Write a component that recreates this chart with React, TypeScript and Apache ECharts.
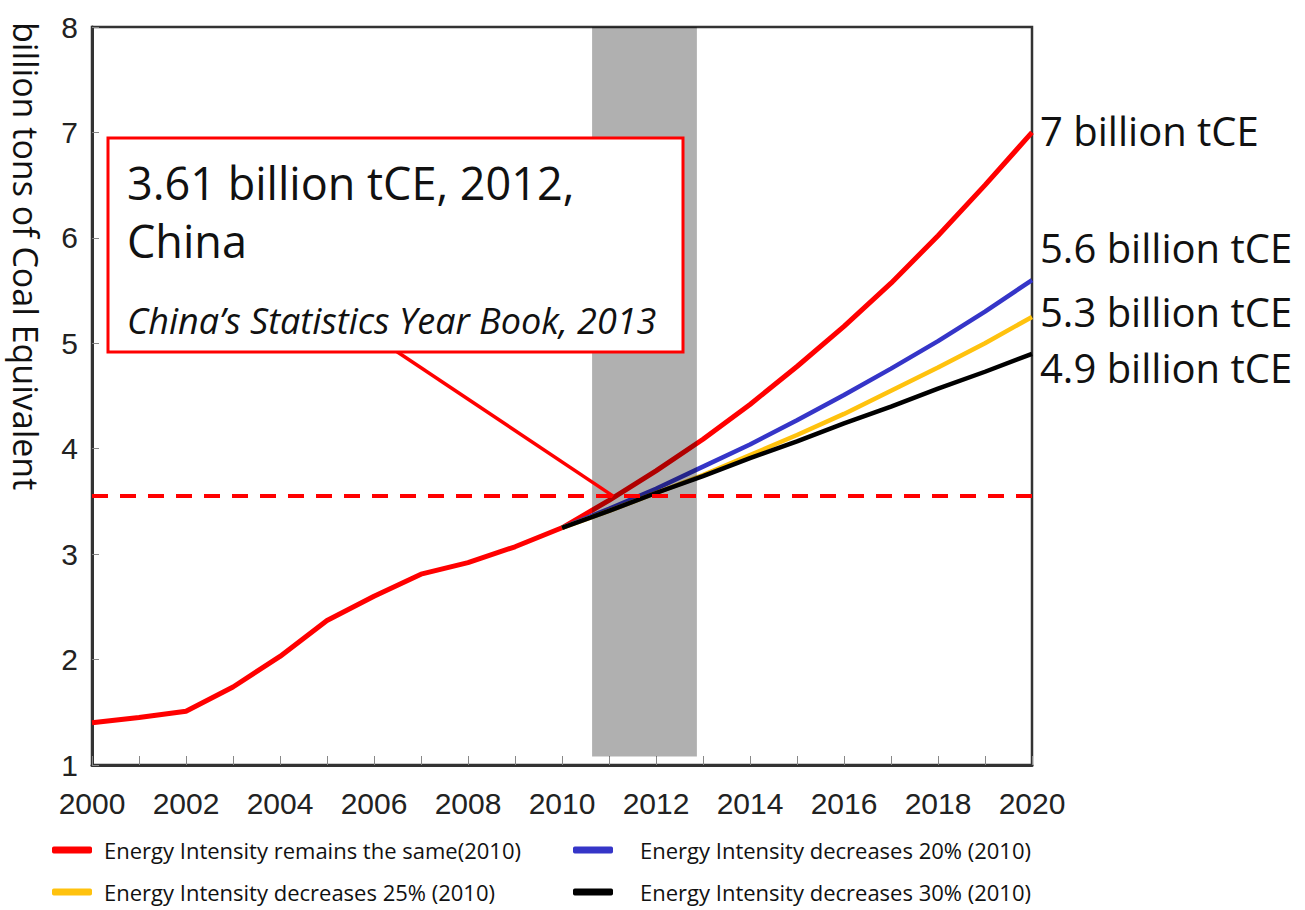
import React, { useEffect, useRef } from "react";
import * as echarts from "echarts";

const histYears = [2000, 2001, 2002, 2003, 2004, 2005, 2006, 2007, 2008, 2009, 2010];
const histValues = [1.40, 1.45, 1.51, 1.74, 2.03, 2.37, 2.60, 2.81, 2.92, 3.07, 3.25];

const projYears = [2010, 2011, 2012, 2013, 2014, 2015, 2016, 2017, 2018, 2019, 2020];
const sameIntensity = [3.25, 3.51, 3.79, 4.09, 4.42, 4.78, 5.16, 5.57, 6.02, 6.50, 7.00];
const minus20 = [3.25, 3.43, 3.62, 3.83, 4.04, 4.27, 4.51, 4.76, 5.02, 5.30, 5.60];
const minus25 = [3.25, 3.41, 3.58, 3.75, 3.94, 4.13, 4.33, 4.55, 4.77, 5.00, 5.25];
const minus30 = [3.25, 3.41, 3.58, 3.74, 3.91, 4.07, 4.24, 4.40, 4.57, 4.73, 4.90];

const seriesNames = [
  "Energy Intensity remains the same(2010)",
  "Energy Intensity decreases 20% (2010)",
  "Energy Intensity decreases 25% (2010)",
  "Energy Intensity decreases 30% (2010)",
];
const seriesColors = ["#ff0000", "#3535c8", "#ffc20e", "#000000"];

const endLabels = ["7 billion tCE", "5.6 billion tCE", "5.3 billion tCE", "4.9 billion tCE"];

const statValue = 3.55; // dashed reference line
const statYear = 2011.09;
const arrowFrom = [2006.49, 4.92];
const bandRange = [2010.64, 2012.87];
const bandLow = 1.08;

const FONT = "'Open Sans', 'Noto Sans', sans-serif";
const AXISFONT = "'Liberation Sans', Arial, sans-serif";

export default function App() {
  const ref = useRef<HTMLDivElement>(null);

  useEffect(() => {
    if (!ref.current) return;
    const chart = echarts.init(ref.current, null, { renderer: "svg" });

    const redData = histYears
      .map((y, i) => [y, histValues[i]])
      .concat(projYears.slice(1).map((y, i) => [y, sameIntensity[i + 1]]));
    const proj = (arr: number[]) => projYears.map((y, i) => [y, arr[i]]);

    const lineSeries = (name: string, color: string, data: any[], width: number, z: number) => ({
      name,
      type: "line",
      data,
      showSymbol: false,
      symbol: "none",
      color,
      lineStyle: { color, width },
      z,
    });

    const legendBase = {
      orient: "vertical",
      top: 839,
      padding: 0,
      itemWidth: 40,
      itemHeight: 7,
      itemGap: 20,
      icon: "roundRect",
    };

    const option: any = {
      animation: false,
      backgroundColor: "#ffffff",
      grid: {
        left: 92,
        right: 273,
        top: 27,
        bottom: 145,
        outerBoundsMode: "none",
        show: true,
        borderColor: "#333",
        borderWidth: 2.5,
        backgroundColor: "transparent",
      },
      xAxis: {
        type: "value",
        min: 2000,
        max: 2020,
        interval: 1,
        axisLine: { show: true, lineStyle: { color: "#333", width: 3 } },
        axisTick: { show: true, inside: true, length: 9, lineStyle: { color: "#888", width: 1 } },
        splitLine: { show: false },
        axisLabel: {
          margin: 23,
          fontSize: 30,
          fontFamily: AXISFONT,
          color: "#222",
          formatter: (v: number) => (v % 2 === 0 ? String(v) : ""),
        },
      },
      yAxis: {
        type: "value",
        min: 1,
        max: 8,
        interval: 1,
        axisLine: { show: true, lineStyle: { color: "#333", width: 3 } },
        axisTick: { show: true, inside: true, length: 7, lineStyle: { color: "#888", width: 1 } },
        splitLine: { show: false },
        axisLabel: { margin: 14, fontSize: 30, fontFamily: AXISFONT, color: "#222" },
      },
      legend: [
        {
          ...legendBase,
          data: [seriesNames[0], seriesNames[2]],
          left: 52,
          textStyle: { fontSize: 22, fontFamily: FONT, color: "#111", padding: [0, 0, 0, 7] },
        },
        {
          ...legendBase,
          data: [seriesNames[1], seriesNames[3]],
          left: 573,
          textStyle: { fontSize: 22, fontFamily: FONT, color: "#111", padding: [0, 0, 0, 22] },
        },
      ],
      series: [
        lineSeries(seriesNames[0], seriesColors[0], redData, 5, 2),
        lineSeries(seriesNames[1], seriesColors[1], proj(minus20), 4.5, 2),
        lineSeries(seriesNames[2], seriesColors[2], proj(minus25), 4.5, 2),
        lineSeries(seriesNames[3], seriesColors[3], proj(minus30), 4.5, 2),
        {
          name: "band",
          type: "line",
          data: [],
          z: 3,
          markArea: {
            silent: true,
            z: 3,
            itemStyle: { color: "rgba(0,0,0,0.31)" },
            data: [[{ coord: [bandRange[0], bandLow] }, { coord: [bandRange[1], 8] }]],
          },
        },
        {
          name: "refs",
          type: "line",
          data: [],
          z: 4,
          markLine: {
            silent: true,
            z: 5,
            symbol: ["none", "none"],
            label: { show: false },
            lineStyle: { color: "#ff0000", width: 4, type: [16, 12] },
            data: [{ yAxis: statValue }],
          },
        },
        {
          name: "arrow",
          type: "line",
          data: [],
          z: 4,
          markLine: {
            silent: true,
            z: 5,
            symbol: ["none", "arrow"],
            symbolSize: [0, 20],
            label: { show: false },
            lineStyle: { color: "#ff0000", width: 3.5, type: "solid" },
            data: [[{ coord: arrowFrom }, { coord: [statYear, statValue] }]],
          },
        },
      ],
      graphic: [
        {
          type: "text",
          x: 26,
          y: 22,
          rotation: -Math.PI / 2,
          style: {
            text: "billion tons of Coal Equivalent",
            fontSize: 34,
            fontFamily: FONT,
            fill: "#111",
            align: "left",
            verticalAlign: "middle",
          },
        },
        {
          type: "rect",
          z: 10,
          shape: { x: 108, y: 138, width: 575, height: 214 },
          style: { fill: "#ffffff", stroke: "#ff0000", lineWidth: 3 },
        },
        {
          type: "text",
          z: 11,
          x: 127,
          y: 182,
          style: {
            text: "3.61 billion tCE, 2012,",
            fontSize: 45,
            fontFamily: FONT,
            fill: "#111",
            verticalAlign: "middle",
          },
        },
        {
          type: "text",
          z: 11,
          x: 127,
          y: 240,
          style: { text: "China", fontSize: 45, fontFamily: FONT, fill: "#111", verticalAlign: "middle" },
        },
        {
          type: "text",
          z: 11,
          x: 127,
          y: 320,
          style: {
            text: "China\u2019s Statistics Year Book, 2013",
            fontSize: 36,
            fontStyle: "italic",
            fontFamily: FONT,
            fill: "#111",
            verticalAlign: "middle",
          },
        },
        ...endLabels.map((t, i) => ({
          type: "text",
          x: 1040,
          y: [130, 247, 311, 367][i],
          style: { text: t, fontSize: 40, fontFamily: FONT, fill: "#111", verticalAlign: "middle" },
        })),
      ],
    };

    chart.setOption(option);
    return () => chart.dispose();
  }, []);

  return (
    <div
      ref={ref}
      style={{ position: "fixed", left: 0, top: 0, width: 1305, height: 910, background: "#fff" }}
    />
  );
}
